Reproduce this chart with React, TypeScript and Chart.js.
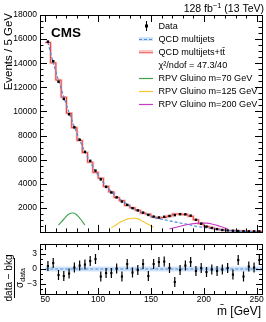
import React, { useEffect, useRef } from "react";
import { Chart, registerables } from "chart.js";
Chart.register(...registerables);

const FONT = "'Liberation Sans', Arial, Helvetica, sans-serif";

// ---- data ----
const binCenters = [
  52.5, 57.5, 62.5, 67.5, 72.5, 77.5, 82.5, 87.5, 92.5, 97.5, 102.5, 107.5, 112.5, 117.5,
  122.5, 127.5, 132.5, 137.5, 142.5, 147.5, 152.5, 157.5, 162.5, 167.5, 172.5, 177.5, 182.5,
  187.5, 192.5, 197.5, 202.5, 207.5, 212.5, 217.5, 222.5, 227.5, 232.5, 237.5, 242.5, 247.5, 252.5,
];
const dataCounts = [
  15790, 14170, 12465, 11030, 9760, 8680, 7650, 6650, 5900, 5085, 4355, 3730, 3270, 2865,
  2515, 2245, 1970, 1785, 1600, 1410, 1270, 1200, 1255, 1320, 1390, 1470, 1460,
  1350, 1000, 680, 440, 330, 230, 160, 120, 95, 75, 60, 50, 45, 40,
];
const qcdMultijets = [
  15720, 14050, 12580, 11200, 9900, 8720, 7620, 6640, 5780, 5030, 4390, 3830, 3350, 2940,
  2590, 2280, 1960, 1770, 1580, 1400, 1200, 1100, 1010, 920, 830, 740, 660,
  580, 470, 400, 340, 280, 225, 150, 110, 95, 55, 50, 42, 38, 28,
];
const qcdPlusTtbar = [
  15715, 14030, 12600, 11180, 9850, 8650, 7590, 6580, 5780, 4940, 4455, 3780, 3315, 2860,
  2590, 2200, 2000, 1795, 1560, 1462, 1234, 1152, 1202, 1313, 1487, 1478, 1433,
  1299, 1013, 675, 453, 332, 236, 161, 118, 106, 59, 72, 46, 43, 29,
];
const pulls = [
  0.6, 1.2, -1.2, -1.4, -0.9, 0.3, 0.7, 0.9, 1.6, 2.0, -1.5, -0.8, -0.8, 0.1, -1.5, 1.0,
  -0.7, -0.2, 1.0, -1.4, 1.0, 1.4, 1.5, 0.2, -2.6, -0.2, 0.7, 1.4, -0.4, 0.2, -0.6, -0.1,
  -0.4, -0.1, 0.2, -1.1, 1.8, -1.5, 0.5, 0.3, 1.8,
];
const gluino70Mass = [62.5, 67.5, 72.5, 77.5, 82.5, 87.5];
const gluino70Events = [560, 1050, 1480, 1540, 1150, 580];
const gluino125Mass = [112.5, 117.5, 122.5, 127.5, 132.5, 137.5, 142.5, 147.5, 152.5];
const gluino125Events = [330, 620, 880, 1060, 1130, 1100, 860, 620, 390];
const gluino200Mass = [167.5, 172.5, 177.5, 182.5, 187.5, 192.5, 197.5, 202.5, 207.5, 212.5, 217.5, 222.5];
const gluino200Events = [240, 360, 470, 570, 650, 710, 740, 730, 660, 540, 400, 260];
const bandEdges = [50, 255];
const bandHalfWidth = [0.5, 0.5];
const yTicksEvents = [2000, 4000, 6000, 8000, 10000, 12000, 14000, 16000, 18000];
const yTicksPull = [-3, 0, 3];
const xTicksMass = [50, 100, 150, 200, 250];
const legendLabels = [
  "Data",
  "QCD multijets",
  "QCD multijets+tt\u0304",
  "\u03c7\u00b2/ndof = 47.3/40",
  "RPV Gluino m=70 GeV",
  "RPV Gluino m=125 GeV",
  "RPV Gluino m=200 GeV",
];

const X_MIN = 45;
const X_MAX = 255;
const C_BLUE = "#4a8fe0";
const C_RED = "#e8413c";
const C_PINK = "rgba(245,140,140,0.5)";
const C_GREEN = "#3fa34d";
const C_YELLOW = "#f7c531";
const C_MAGENTA = "#c93ac9";
const C_BAND = "rgba(150,190,240,0.45)";

function drawFrameAndTicks(
  chart: any,
  yMin: number,
  yMax: number,
  yStep: number,
  isYMajor: (v: number) => boolean,
  maj: number,
  min: number
) {
  const { ctx, chartArea: a, scales } = chart;
  const xs = scales.x;
  const ys = scales.y;
  ctx.save();
  ctx.strokeStyle = "#000";
  ctx.lineWidth = 1;
  ctx.strokeRect(Math.round(a.left) + 0.5, Math.round(a.top) + 0.5, Math.round(a.right - a.left), Math.round(a.bottom - a.top));
  ctx.beginPath();
  for (let i = Math.ceil(X_MIN / 10); i * 10 <= X_MAX; i++) {
    const v = i * 10;
    const px = Math.round(xs.getPixelForValue(v)) + 0.5;
    const len = v % 50 === 0 ? maj : min;
    ctx.moveTo(px, a.bottom);
    ctx.lineTo(px, a.bottom - len);
    ctx.moveTo(px, a.top);
    ctx.lineTo(px, a.top + len);
  }
  const n0 = Math.ceil(yMin / yStep);
  const n1 = Math.floor(yMax / yStep);
  for (let i = n0; i <= n1; i++) {
    const v = i * yStep;
    const py = Math.round(ys.getPixelForValue(v)) + 0.5;
    const len = isYMajor(v) ? maj : min;
    ctx.moveTo(a.left, py);
    ctx.lineTo(a.left + len, py);
    ctx.moveTo(a.right, py);
    ctx.lineTo(a.right - len, py);
  }
  ctx.stroke();
  ctx.restore();
}

const topDecor = {
  id: "topDecor",
  afterDraw(chart: any) {
    drawFrameAndTicks(chart, 0, 18000, 500, (v) => v % 2000 === 0, 7, 3.5);
    const { ctx } = chart;
    ctx.save();
    ctx.fillStyle = "#000";
    // CMS label
    ctx.font = `bold 13.5px ${FONT}`;
    ctx.textBaseline = "alphabetic";
    ctx.textAlign = "left";
    ctx.fillText("CMS", 51, 37);
    // lumi label
    const big = `10.5px ${FONT}`;
    const small = `7.5px ${FONT}`;
    const p1 = "128 fb";
    const p2 = "\u22121";
    const p3 = " (13 TeV)";
    ctx.font = big;
    const w1 = ctx.measureText(p1).width;
    const w3 = ctx.measureText(p3).width;
    ctx.font = small;
    const w2 = ctx.measureText(p2).width;
    let x = 264 - (w1 + w2 + w3);
    ctx.font = big;
    ctx.fillText(p1, x, 12);
    x += w1;
    ctx.font = small;
    ctx.fillText(p2, x, 8);
    x += w2;
    ctx.font = big;
    ctx.fillText(p3, x, 12);
    // y title
    ctx.save();
    ctx.translate(9, 13);
    ctx.rotate(-Math.PI / 2);
    ctx.font = `11.5px ${FONT}`;
    ctx.textAlign = "right";
    ctx.textBaseline = "middle";
    ctx.fillText("Events / 5 GeV", 0, 0);
    ctx.restore();
    // legend
    const sx0 = 139;
    const sx1 = 153;
    const tx = 158.5;
    ctx.font = `9.1px ${FONT}`;
    ctx.textAlign = "left";
    ctx.textBaseline = "middle";
    legendLabels.forEach((label, i) => {
      const y = 26 + 13 * i;
      ctx.fillStyle = "#000";
      ctx.fillText(label, tx, y);
      ctx.save();
      if (i === 0) {
        ctx.strokeStyle = "#000";
        ctx.lineWidth = 1;
        ctx.beginPath();
        ctx.moveTo(146.5, y - 5);
        ctx.lineTo(146.5, y + 5);
        ctx.stroke();
        ctx.fillRect(145, y - 1.5, 3, 3);
      } else if (i === 1) {
        ctx.fillStyle = C_BAND;
        ctx.fillRect(sx0, y - 2, sx1 - sx0, 4);
        ctx.strokeStyle = C_BLUE;
        ctx.setLineDash([3, 2]);
        ctx.lineWidth = 1;
        ctx.beginPath();
        ctx.moveTo(sx0, y + 0.5);
        ctx.lineTo(sx1, y + 0.5);
        ctx.stroke();
      } else if (i === 2) {
        ctx.fillStyle = C_PINK;
        ctx.fillRect(sx0, y - 2, sx1 - sx0, 4);
        ctx.strokeStyle = "rgba(232,65,60,0.6)";
        ctx.lineWidth = 1;
        ctx.beginPath();
        ctx.moveTo(sx0, y + 0.5);
        ctx.lineTo(sx1, y + 0.5);
        ctx.stroke();
      } else if (i >= 4) {
        ctx.strokeStyle = [C_GREEN, C_YELLOW, C_MAGENTA][i - 4];
        ctx.lineWidth = 1.2;
        ctx.beginPath();
        ctx.moveTo(sx0, y + 0.5);
        ctx.lineTo(sx1, y + 0.5);
        ctx.stroke();
      }
      ctx.restore();
    });
    ctx.restore();
  },
};

const bottomDecor = {
  id: "bottomDecor",
  afterDatasetsDraw(chart: any) {
    const { ctx, scales } = chart;
    ctx.save();
    ctx.strokeStyle = "#000";
    ctx.lineWidth = 1.2;
    ctx.beginPath();
    binCenters.forEach((c, i) => {
      const px = scales.x.getPixelForValue(c);
      ctx.moveTo(px, scales.y.getPixelForValue(pulls[i] + 1));
      ctx.lineTo(px, scales.y.getPixelForValue(pulls[i] - 1));
    });
    ctx.stroke();
    ctx.restore();
  },
  afterDraw(chart: any) {
    drawFrameAndTicks(chart, -5, 5, 1, (v) => v % 3 === 0, 6, 3);
    const { ctx } = chart;
    ctx.save();
    ctx.fillStyle = "#000";
    ctx.strokeStyle = "#000";
    // x title
    ctx.font = `12px ${FONT}`;
    ctx.textAlign = "right";
    ctx.textBaseline = "middle";
    ctx.fillText("m\u0304 [GeV]", 261, 76);
    // y title fraction
    ctx.translate(14.5, 42);
    ctx.rotate(-Math.PI / 2);
    ctx.lineWidth = 1;
    ctx.beginPath();
    ctx.moveTo(-20, 0);
    ctx.lineTo(20, 0);
    ctx.stroke();
    ctx.textAlign = "center";
    ctx.textBaseline = "alphabetic";
    ctx.font = `10px ${FONT}`;
    ctx.fillText("data \u2212 bkg", 0, -2.5);
    ctx.font = `10px ${FONT}`;
    const sw = ctx.measureText("\u03c3").width;
    ctx.font = `7px ${FONT}`;
    const dw = ctx.measureText("data").width;
    const start = -(sw + dw) / 2;
    ctx.textAlign = "left";
    ctx.font = `10px ${FONT}`;
    ctx.fillText("\u03c3", start, 8);
    ctx.font = `7px ${FONT}`;
    ctx.fillText("data", start + sw, 10);
    ctx.restore();
  },
};

export default function App() {
  const topRef = useRef<HTMLCanvasElement>(null);
  const botRef = useRef<HTMLCanvasElement>(null);

  useEffect(() => {
    const pts = (xs: number[], ys: number[]) => xs.map((x, i) => ({ x, y: ys[i] }));
    const histPts = binCenters.map((c, i) => ({ x: c - 2.5, y: qcdPlusTtbar[i] }));
    histPts.push({ x: binCenters[binCenters.length - 1] + 2.5, y: qcdPlusTtbar[qcdPlusTtbar.length - 1] });

    const top = new Chart(topRef.current!, {
      type: "line",
      data: {
        datasets: [
          {
            label: "Data",
            data: pts(binCenters, dataCounts),
            showLine: false,
            pointStyle: "rect",
            pointRadius: 1.7,
            pointBackgroundColor: "#000",
            pointBorderWidth: 0,
          },
          {
            label: "g70",
            data: pts(gluino70Mass, gluino70Events),
            borderColor: C_GREEN,
            borderWidth: 1.1,
            pointRadius: 0,
            tension: 0.4,
          },
          {
            label: "g125",
            data: pts(gluino125Mass, gluino125Events),
            borderColor: C_YELLOW,
            borderWidth: 1.1,
            pointRadius: 0,
            tension: 0.4,
          },
          {
            label: "g200",
            data: pts(gluino200Mass, gluino200Events),
            borderColor: C_MAGENTA,
            borderWidth: 1.1,
            pointRadius: 0,
            tension: 0.4,
          },
          {
            label: "QCD",
            data: pts(binCenters, qcdMultijets),
            borderColor: C_BLUE,
            borderDash: [3, 2],
            borderWidth: 1.2,
            pointRadius: 0,
            tension: 0.3,
          },
          {
            label: "QCD+tt",
            data: histPts,
            borderColor: C_RED,
            borderWidth: 1,
            pointRadius: 0,
            stepped: true,
          },
          {
            label: "QCD+tt band",
            data: histPts,
            borderColor: C_PINK,
            borderWidth: 2.6,
            pointRadius: 0,
            stepped: true,
          },
        ],
      },
      options: {
        responsive: false,
        maintainAspectRatio: false,
        animation: false,
        layout: { padding: { top: 15, right: 4, bottom: 3, left: 0 } },
        plugins: { legend: { display: false }, tooltip: { enabled: false } },
        scales: {
          x: { type: "linear", min: X_MIN, max: X_MAX, display: false },
          y: {
            type: "linear",
            min: 0,
            max: 18000,
            grid: { display: false, drawTicks: false },
            border: { display: false },
            afterBuildTicks: (s: any) => {
              s.ticks = yTicksEvents.map((v) => ({ value: v }));
            },
            afterFit: (s: any) => {
              s.width = 40;
            },
            ticks: {
              padding: 3,
              autoSkip: false,
              color: "#000",
              font: { family: FONT, size: 8.5 },
              callback: (v: any) => String(v),
            },
          },
        },
      },
      plugins: [topDecor],
    });

    const bottom = new Chart(botRef.current!, {
      type: "line",
      data: {
        datasets: [
          {
            label: "Pull",
            data: pts(binCenters, pulls),
            showLine: false,
            pointStyle: "rect",
            pointRadius: 1.5,
            pointBackgroundColor: "#000",
            pointBorderWidth: 0,
          },
          {
            label: "zero",
            data: pts(bandEdges, [0, 0]),
            borderColor: C_BLUE,
            borderDash: [3, 2],
            borderWidth: 1.1,
            pointRadius: 0,
          },
          {
            label: "band",
            data: pts(bandEdges, bandHalfWidth),
            borderWidth: 0,
            borderColor: "rgba(0,0,0,0)",
            backgroundColor: C_BAND,
            pointRadius: 0,
            fill: { value: -bandHalfWidth[0] },
          },
        ],
      },
      options: {
        responsive: false,
        maintainAspectRatio: false,
        animation: false,
        layout: { padding: { top: 3, right: 4, bottom: 0, left: 0 } },
        plugins: { legend: { display: false }, tooltip: { enabled: false } },
        scales: {
          x: {
            type: "linear",
            min: X_MIN,
            max: X_MAX,
            grid: { display: false, drawTicks: false },
            border: { display: false },
            afterBuildTicks: (s: any) => {
              s.ticks = xTicksMass.map((v) => ({ value: v }));
            },
            afterFit: (s: any) => {
              s.height = 28;
            },
            ticks: {
              padding: 1,
              maxRotation: 0,
              autoSkip: false,
              color: "#000",
              font: { family: FONT, size: 8.5 },
              callback: (v: any) => String(v),
            },
          },
          y: {
            type: "linear",
            min: -5,
            max: 5,
            grid: { display: false, drawTicks: false },
            border: { display: false },
            afterBuildTicks: (s: any) => {
              s.ticks = yTicksPull.map((v) => ({ value: v }));
            },
            afterFit: (s: any) => {
              s.width = 40;
            },
            ticks: {
              padding: 3,
              autoSkip: false,
              color: "#000",
              font: { family: FONT, size: 8.5 },
              callback: (v: any) => (v < 0 ? "\u2212" + Math.abs(v) : String(v)),
            },
          },
        },
      },
      plugins: [bottomDecor],
    });

    return () => {
      top.destroy();
      bottom.destroy();
    };
  }, []);

  return (
    <div style={{ position: "fixed", left: 0, top: 0, width: 266, height: 322, background: "#fff" }}>
      <canvas ref={topRef} width={266} height={240} style={{ position: "absolute", left: 0, top: 0 }} />
      <canvas ref={botRef} width={266} height={86} style={{ position: "absolute", left: 0, top: 236 }} />
    </div>
  );
}
